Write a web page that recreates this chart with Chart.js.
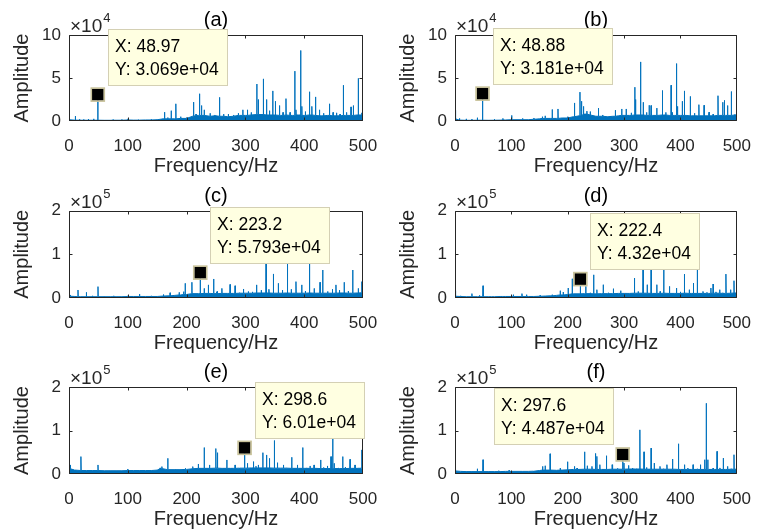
<!DOCTYPE html>
<html>
<head>
<meta charset="utf-8">
<script src="https://cdn.jsdelivr.net/npm/chart.js@4/dist/chart.umd.min.js"></script>
<style>
  html, body { margin: 0; padding: 0; background: #ffffff; }
  #wrap { position: relative; width: 766px; height: 531px; overflow: hidden; }
  #wrap canvas { position: absolute; left: 0; top: 0; }
</style>
</head>
<body>
<div id="wrap">
  <canvas id="cA" width="766" height="531"></canvas>
  <canvas id="cB" width="766" height="531"></canvas>
  <canvas id="cC" width="766" height="531"></canvas>
  <canvas id="cD" width="766" height="531"></canvas>
  <canvas id="cE" width="766" height="531"></canvas>
  <canvas id="cF" width="766" height="531"></canvas>
</div>
<script>
// ---- spectrum peaks (frequency in Hz, amplitude) ----
const FREQ_A = [0.5, 10.8, 18, 25, 33, 42, 75, 90, 100, 118, 140, 150, 162.5, 168, 173.8, 181.7, 190, 200, 211.8, 216, 222, 225.4, 230, 240, 248, 256, 263, 271, 280, 288, 295.6, 303.5, 310, 319.4, 322, 330.7, 336, 341, 346.5, 351, 358, 364, 369, 376, 384, 386, 394, 396, 402, 409, 413, 419, 426, 433, 443, 449, 455, 461, 466.6, 472, 479.6, 483.6, 492, 498];
const AMP_A  = [9500, 5700, 2000, 1800, 2200, 2500, 1500, 1800, 2500, 1500, 2000, 1800, 10300, 4000, 12000, 20000, 5000, 4000, 22000, 8000, 31700, 18000, 13000, 9000, 7000, 27500, 8000, 8000, 7000, 9000, 13000, 13000, 10000, 43000, 25000, 49000, 25000, 12000, 35000, 23000, 18000, 10000, 26000, 10000, 58000, 13000, 82000, 17000, 11000, 34000, 17000, 28000, 13000, 9000, 20000, 10000, 9500, 8000, 41600, 10000, 16400, 18000, 49600, 9500];

const FREQ_B = [1, 8, 20, 30, 39.6, 70, 85, 100.7, 120, 140, 155, 160, 172.5, 182.7, 200, 212, 221.7, 224.5, 228, 234, 240, 254.5, 262, 271.5, 284.5, 295.8, 303.7, 312.8, 319, 320.5, 329, 334, 340, 344.5, 348, 358, 368, 374, 383.5, 385.7, 393, 394.8, 403.3, 407, 417.5, 425, 432.7, 442, 450.8, 458, 466.6, 475, 478, 483.6, 490.4, 496.6];
const AMP_B  = [12600, 3000, 2500, 2200, 3800, 2000, 3000, 6500, 3000, 3500, 5000, 6000, 13400, 14000, 5000, 21000, 33600, 23000, 17000, 11500, 11000, 15000, 7000, 5000, 12600, 14000, 14000, 9500, 39300, 25000, 68700, 21800, 10000, 18300, 18000, 15000, 35500, 10000, 41600, 10000, 66800, 17000, 23000, 35000, 28600, 9000, 19000, 18300, 10300, 8000, 29400, 21800, 24000, 18000, 34300, 7600];

const FREQ_C = [2.3, 15.3, 29.4, 40, 49.3, 60, 76, 100, 120, 140, 160.8, 172, 187.4, 195, 197.6, 209, 230, 237, 246, 252, 260, 274, 282.5, 290, 296.7, 305, 312, 319, 327, 335.2, 340, 347.6, 356, 363, 371.5, 378, 386, 395.8, 402, 409, 417, 427, 431.5, 440, 448, 454, 460, 468, 475, 482.5, 492, 498];
const AMP_C  = [6900, 18300, 13000, 5000, 26000, 4000, 5000, 5000, 9000, 5000, 8000, 12000, 13000, 14500, 33600, 36000, 22000, 30000, 43500, 15000, 22000, 31000, 28000, 12000, 20600, 15000, 14000, 30000, 18000, 92000, 20000, 55000, 33600, 18000, 88000, 20000, 37400, 30000, 16000, 82000, 22000, 36000, 64000, 15000, 20000, 30000, 18000, 36000, 16000, 64000, 22000, 37400];

const FREQ_D = [1, 10, 30, 43.5, 49.8, 65, 85, 103.5, 118.8, 127, 140, 151, 172.5, 186.7, 192, 200.8, 208, 232, 240, 246, 251.7, 263, 272, 281, 294, 307, 318.4, 325, 333.7, 341, 348, 358, 364, 370.5, 380.7, 393, 400, 407, 415.7, 423, 430, 440, 447, 454, 458, 463, 469.5, 475, 480.8, 489, 495];
const AMP_D  = [16700, 5000, 10000, 6000, 28000, 3000, 4000, 7600, 10000, 7600, 4000, 6000, 7600, 16700, 13700, 22800, 44000, 26600, 12000, 53000, 19000, 30400, 12000, 21300, 16700, 11400, 45600, 15000, 78000, 30400, 82000, 30400, 15000, 74000, 26600, 22800, 14000, 54700, 19000, 34200, 74500, 15000, 13000, 22800, 32000, 14000, 19000, 12000, 54700, 19000, 39500];

const FREQ_E = [2.3, 10, 20.4, 30, 40, 49.3, 70, 100, 120, 140, 155, 158, 168, 180, 189, 198, 210.6, 220, 230, 239, 249.7, 252.5, 261.6, 268.4, 275, 282.5, 290, 303.5, 313.7, 318, 322, 329.6, 336, 340.9, 349, 354.5, 364.7, 370, 378.8, 388.5, 397.5, 404, 410, 416.8, 428, 433, 439.4, 445.6, 448.5, 451, 458, 465.5, 470, 478, 486.4, 493, 498];
const AMP_E  = [20800, 8000, 40000, 8000, 7000, 20800, 6000, 11500, 6000, 7000, 14000, 17000, 36000, 9000, 10800, 13000, 17000, 23000, 60800, 20800, 58500, 49000, 13000, 32300, 12000, 20800, 12000, 24600, 28500, 18000, 20800, 49000, 43800, 36000, 77000, 26000, 20800, 14000, 38500, 20800, 60800, 14000, 18500, 20800, 32300, 15000, 18500, 40000, 90000, 24600, 14000, 40000, 16000, 33800, 20800, 14000, 55400];

const FREQ_F = [1, 20, 39.6, 49.8, 77.5, 96, 120, 140, 155.5, 160, 168.6, 180, 186.7, 199.7, 212, 216.6, 230, 234.7, 243, 249, 251.7, 257, 268.7, 278.8, 288.5, 299.8, 308, 315, 322, 328, 335.4, 340, 348, 353.5, 363.7, 370, 376, 386, 396.5, 407.2, 413, 422.5, 430, 435.5, 443, 445.8, 448.5, 458, 465, 470, 476, 483.6, 490, 495];
const AMP_F  = [10000, 6000, 12000, 32800, 7600, 8400, 5000, 5000, 17500, 19000, 46500, 8000, 13700, 28200, 17500, 13700, 51000, 19000, 17500, 47300, 40500, 21400, 42000, 21400, 13000, 25200, 19800, 13700, 12000, 101500, 51000, 15000, 59500, 25200, 17500, 12000, 21400, 34400, 69500, 21400, 13700, 21400, 12000, 21400, 32800, 162600, 32800, 13700, 52000, 14000, 36600, 17500, 12000, 44300];

// ---- noise floor, one value every 10 Hz from 0 to 500 Hz ----
const FLOOR_STEP = 10;
const FLOOR_A = [1500, 1000, 900, 900, 900, 900, 800, 800, 900, 900, 1200, 1000, 1000, 1200, 1200, 1500, 2500, 2500, 2500, 3000, 3000, 5500, 6500, 6500, 5500, 6000, 5500, 5000, 5500, 6500, 6500, 7000, 7500, 7500, 7000, 7000, 6500, 7000, 6500, 7000, 6500, 7000, 6500, 6000, 6500, 6000, 6000, 6500, 6500, 7000, 7000];
const FLOOR_B = [2500, 1000, 800, 800, 900, 900, 800, 900, 1000, 1200, 1500, 1500, 1500, 1500, 2000, 2500, 3000, 3000, 3000, 3500, 3500, 5000, 6000, 8000, 7000, 5500, 5500, 5000, 5500, 6000, 6500, 6500, 7000, 7000, 6500, 6500, 6500, 7000, 6500, 6500, 6500, 6500, 6000, 6000, 6000, 6000, 6000, 6500, 6500, 6500, 7000];
const FLOOR_C = [4000, 3500, 3000, 3000, 3000, 3000, 3000, 3000, 3000, 3000, 3500, 3500, 3500, 3500, 3500, 3500, 4500, 5000, 6000, 7000, 8000, 10000, 10000, 10500, 10500, 10000, 10500, 10500, 10500, 11000, 11000, 11000, 11500, 11500, 11500, 11000, 11000, 11500, 11000, 11000, 11000, 11500, 11000, 11000, 11000, 11000, 11500, 11500, 11000, 11500, 12000];
const FLOOR_D = [4000, 3500, 3000, 3000, 3000, 3000, 3000, 3000, 3500, 3500, 3500, 3500, 3500, 3500, 3500, 4000, 4500, 5000, 6000, 7000, 8000, 9500, 9500, 10000, 10000, 9500, 10000, 10000, 10000, 10500, 10500, 10500, 11000, 11000, 11000, 10500, 10500, 11000, 10500, 10500, 10500, 11000, 10500, 10500, 10500, 10500, 11000, 11000, 10500, 11000, 11500];
const FLOOR_E = [12000, 9000, 8000, 8000, 8000, 8000, 7500, 7500, 7500, 7500, 8000, 8000, 8000, 8000, 8000, 9000, 12000, 10000, 10000, 10000, 10500, 12000, 13000, 13000, 13000, 13500, 13000, 13000, 13000, 13500, 13500, 14000, 14000, 14000, 14000, 13500, 13500, 13500, 13000, 13000, 13000, 13000, 13000, 12500, 12500, 12500, 12500, 12500, 13000, 13000, 13500];
const FLOOR_F = [7000, 6000, 5500, 5500, 5500, 5500, 5500, 5500, 5500, 6000, 6000, 6000, 6000, 6000, 6500, 8000, 9000, 9000, 8500, 9000, 9500, 10500, 10500, 11000, 11000, 10500, 10500, 10500, 11000, 11000, 11000, 11500, 11500, 11500, 11000, 11000, 11000, 11000, 11000, 11000, 10500, 10500, 10500, 10500, 10500, 10500, 10500, 10500, 10500, 11000, 11000];

// ---- data tips ----
const TIP_X = [48.97, 48.88, 223.2, 222.4, 298.6, 297.6];
const TIP_Y = [30690, 31810, 57930, 43200, 60100, 44870];
const TIP_TEXT_X = ['48.97', '48.88', '223.2', '222.4', '298.6', '297.6'];
const TIP_TEXT_Y = ['3.069e+04', '3.181e+04', '5.793e+04', '4.32e+04', '6.01e+04', '4.487e+04'];

// ---- axes ----
const PANEL_TITLES = ['(a)', '(b)', '(c)', '(d)', '(e)', '(f)'];
const X_TICKS = [0, 100, 200, 300, 400, 500];
const Y_MAX = [100000, 100000, 200000, 200000, 200000, 200000];
const Y_STEP = [50000, 50000, 100000, 100000, 100000, 100000];
const Y_EXP = [4, 4, 5, 5, 5, 5];

const FREQS = [FREQ_A, FREQ_B, FREQ_C, FREQ_D, FREQ_E, FREQ_F];
const AMPS = [AMP_A, AMP_B, AMP_C, AMP_D, AMP_E, AMP_F];
const FLOORS = [FLOOR_A, FLOOR_B, FLOOR_C, FLOOR_D, FLOOR_E, FLOOR_F];

// page geometry of each plot box
const COL_L = [69, 455], COL_R = [363, 749.5];
const ROW_T = [35, 210.5, 387], ROW_B = [121, 298, 474];
const TIP_SIDE = ['right', 'right', 'right', 'right', 'right', 'left'];

const INK = '#262626';
const LINE = '#0072BD';
const FONT = 'Arial, "Liberation Sans", Helvetica, sans-serif';

// Builds the point list: the floor curve plus a narrow spike for every peak.
function spectrum(freqs, amps, floor, tipX, tipY) {
  const pts = floor.map((v, i) => ({ x: i * FLOOR_STEP, y: v }));
  const addPeak = (f, a) => {
    const base = floor[Math.round(f / FLOOR_STEP)];
    pts.push({ x: f - 0.3, y: base }, { x: f, y: a }, { x: f + 0.3, y: base });
  };
  freqs.forEach((f, i) => addPeak(f, amps[i]));
  addPeak(tipX, tipY);
  pts.sort((p, q) => p.x - q.x);
  return pts;
}

function decorations(k) {
  return {
    id: 'decorations' + k,
    afterDraw(chart) {
      const { ctx, chartArea: a, scales: { x, y } } = chart;
      ctx.save();
      // axes box with inward ticks on all four sides
      const l = Math.round(a.left) + 0.5, r = Math.round(a.right) - 0.5;
      const t = Math.round(a.top) + 0.5, b = Math.round(a.bottom) - 0.5;
      const clamp = (v, lo, hi) => Math.min(hi, Math.max(lo, v));
      ctx.strokeStyle = INK;
      ctx.lineWidth = 1;
      ctx.beginPath();
      ctx.rect(l, t, r - l, b - t);
      const TL = 3;
      x.ticks.forEach(tk => {
        const px = clamp(Math.round(x.getPixelForValue(tk.value)) + 0.5, l, r);
        ctx.moveTo(px, b); ctx.lineTo(px, b - TL);
        ctx.moveTo(px, t); ctx.lineTo(px, t + TL);
      });
      y.ticks.forEach(tk => {
        const py = clamp(Math.round(y.getPixelForValue(tk.value)) + 0.5, t, b);
        ctx.moveTo(l, py); ctx.lineTo(l + TL, py);
        ctx.moveTo(r, py); ctx.lineTo(r - TL, py);
      });
      ctx.stroke();

      // panel title
      ctx.fillStyle = '#000000';
      ctx.font = '20px ' + FONT;
      ctx.textAlign = 'center';
      ctx.textBaseline = 'alphabetic';
      ctx.fillText(PANEL_TITLES[k], (a.left + a.right) / 2, a.top - 9);

      // exponent label
      ctx.fillStyle = INK;
      ctx.textAlign = 'left';
      ctx.font = '19px ' + FONT;
      const base = '\u00d710';
      ctx.fillText(base, a.left + 1, a.top - 3);
      const w = ctx.measureText(base).width;
      ctx.font = '13px ' + FONT;
      ctx.fillText(String(Y_EXP[k]), a.left + 2 + w, a.top - 13);

      // data tip marker
      const px = x.getPixelForValue(TIP_X[k]);
      const py = y.getPixelForValue(TIP_Y[k]);
      ctx.fillStyle = '#000000';
      ctx.fillRect(px - 6, py - 6, 12, 12);
      ctx.strokeStyle = '#C8C29A';
      ctx.lineWidth = 1.6;
      ctx.strokeRect(px - 6.5, py - 6.5, 13, 13);

      // data tip box
      ctx.font = '17.5px ' + FONT;
      const l1 = 'X: ' + TIP_TEXT_X[k];
      const l2 = 'Y: ' + TIP_TEXT_Y[k];
      const tw = Math.max(ctx.measureText(l1).width, ctx.measureText(l2).width);
      const bw = Math.round(tw + 16), bh = 57;
      const bx = TIP_SIDE[k] === 'right' ? Math.round(px + 10) : Math.round(px - 9 - bw);
      const by = Math.round(py - 9 - bh);
      ctx.fillStyle = '#FFFFE1';
      ctx.fillRect(bx, by, bw, bh);
      ctx.strokeStyle = '#D4D0B4';
      ctx.lineWidth = 1;
      ctx.strokeRect(bx + 0.5, by + 0.5, bw - 1, bh - 1);
      ctx.fillStyle = '#000000';
      ctx.textAlign = 'left';
      ctx.textBaseline = 'middle';
      ctx.fillText(l1, bx + 7, by + 18);
      ctx.fillText(l2, bx + 7, by + 41);
      ctx.restore();
    }
  };
}

const Y_AXIS_W = 60, X_AXIS_H = 60;
const ids = ['cA', 'cB', 'cC', 'cD', 'cE', 'cF'];

ids.forEach((id, k) => {
  const col = k % 2, row = Math.floor(k / 2);
  const L = COL_L[col], R = COL_R[col], T = ROW_T[row], B = ROW_B[row];
  new Chart(document.getElementById(id), {
    type: 'line',
    data: {
      datasets: [{
        data: spectrum(FREQS[k], AMPS[k], FLOORS[k], TIP_X[k], TIP_Y[k]),
        borderColor: LINE,
        backgroundColor: LINE,
        borderWidth: 1,
        pointRadius: 0,
        fill: 'origin',
        tension: 0
      }]
    },
    options: {
      responsive: false,
      animation: false,
      events: [],
      layout: {
        padding: { left: L - Y_AXIS_W, top: T, right: 766 - R, bottom: 531 - B - X_AXIS_H }
      },
      plugins: { legend: { display: false }, tooltip: { enabled: false }, title: { display: false } },
      scales: {
        x: {
          type: 'linear', min: 0, max: 500,
          afterFit: s => { s.height = X_AXIS_H; },
          afterBuildTicks: s => { s.ticks = X_TICKS.map(v => ({ value: v })); },
          grid: { display: false, drawTicks: false },
          border: { display: false },
          ticks: { color: INK, font: { family: FONT, size: 17 }, padding: 15, maxRotation: 0, autoSkip: false },
          title: { display: true, text: 'Frequency/Hz', color: INK, font: { family: FONT, size: 20, lineHeight: 1.2 }, padding: { top: 0, bottom: 3 } }
        },
        y: {
          type: 'linear', min: 0, max: Y_MAX[k],
          afterFit: s => { s.width = Y_AXIS_W; },
          grid: { display: false, drawTicks: false },
          border: { display: false },
          ticks: {
            stepSize: Y_STEP[k], color: INK, font: { family: FONT, size: 17 }, padding: 8,
            callback: v => String(v / Math.pow(10, Y_EXP[k]))
          },
          title: { display: true, text: 'Amplitude', color: INK, font: { family: FONT, size: 20, lineHeight: 1.2 }, padding: { top: 1, bottom: 0 } }
        }
      }
    },
    plugins: [decorations(k)]
  });
});
</script>
</body>
</html>
